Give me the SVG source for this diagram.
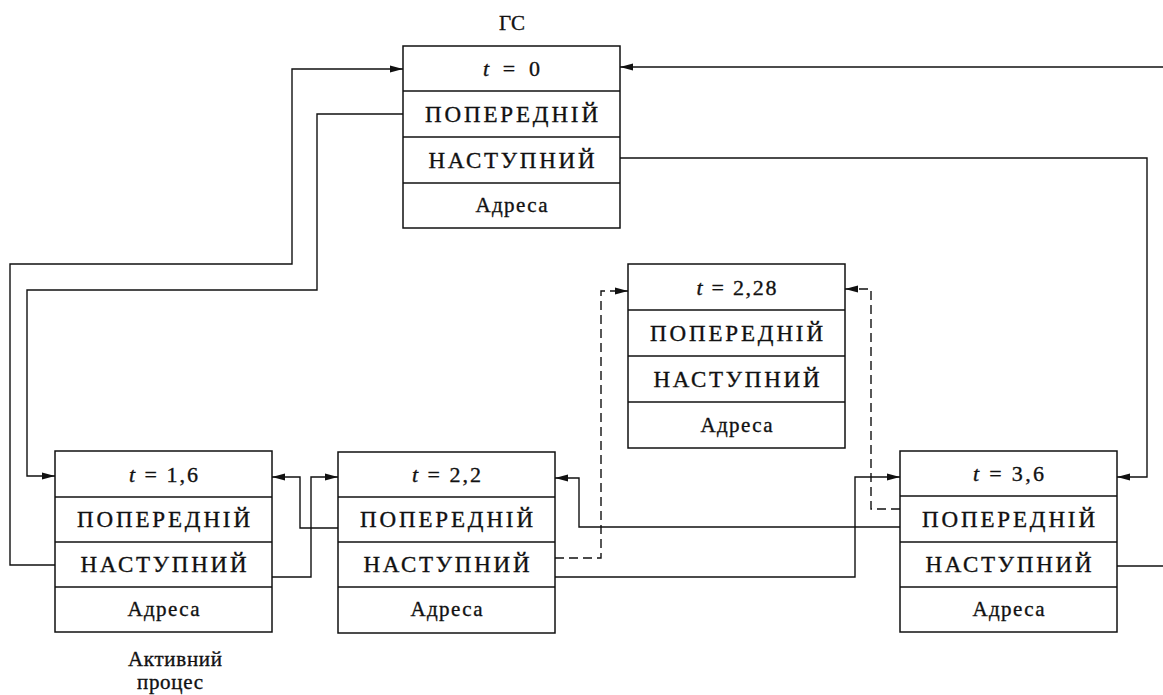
<svg xmlns="http://www.w3.org/2000/svg" width="1163" height="695" viewBox="0 0 1163 695">
<defs>
<marker id="ah" markerUnits="userSpaceOnUse" markerWidth="14" markerHeight="10" refX="13" refY="4" orient="auto">
<path d="M0,0.5 L13,4 L0,7.5 Z" fill="#111"/>
</marker>
<style>
.box{fill:#fff;stroke:#111;stroke-width:1.5}
.sep{stroke:#111;stroke-width:1.4}
.ln{fill:none;stroke:#111;stroke-width:1.4;marker-end:url(#ah)}
.pl{fill:none;stroke:#111;stroke-width:1.4}
.dl{fill:none;stroke:#111;stroke-width:1.4;stroke-dasharray:9 5;marker-end:url(#ah)}
text{font-family:"Liberation Serif","DejaVu Serif",serif;fill:#111;stroke:#111;stroke-width:0.35;text-anchor:middle}
.tt{font-size:22px}
.cap{font-size:23px}
.adr{font-size:21px}
.lbl{font-size:21px}
</style>
</defs>
<rect width="1163" height="695" fill="#fff"/>

<g id="connectors">
<path class="ln" d="M55,565 H10 V264 H292 V69 H403"/>
<path class="ln" d="M403,114 H317 V290 H27 V476 H55"/>
<path class="ln" d="M272,577 H311 V477 H338"/>
<path class="ln" d="M338,528 H300 V477 H272"/>
<path class="dl" d="M555,558 H601 V291 H628"/>
<path class="ln" d="M555,577 H855 V477 H900"/>
<path class="ln" d="M900,527 H579 V478 H555"/>
<path class="dl" d="M900,509 H871 V289 H845"/>
<path class="ln" d="M620,158 H1147 V477 H1117"/>
<path class="pl" d="M1117,566 H1163"/>
<path class="ln" d="M1163,67 H620"/>
</g>

<g id="node-gs">
<text class="lbl" x="512" y="30">ГС</text>
<rect class="box" x="403" y="46" width="217" height="182"/>
<line class="sep" x1="403" y1="91" x2="620" y2="91"/>
<line class="sep" x1="403" y1="137" x2="620" y2="137"/>
<line class="sep" x1="403" y1="183" x2="620" y2="183"/>
<text class="tt" x="511.5" y="76" textLength="57" lengthAdjust="spacing"><tspan font-style="italic">t</tspan> = 0</text>
<text class="cap" x="511.5" y="122" textLength="173" lengthAdjust="spacing">ПОПЕРЕДНІЙ</text>
<text class="cap" x="511.5" y="167.5" textLength="166" lengthAdjust="spacing">НАСТУПНИЙ</text>
<text class="adr" x="511.5" y="212" textLength="72" lengthAdjust="spacing">Адреса</text>
</g>

<g id="node-228">
<rect class="box" x="628" y="264" width="217" height="184"/>
<line class="sep" x1="628" y1="310" x2="845" y2="310"/>
<line class="sep" x1="628" y1="356" x2="845" y2="356"/>
<line class="sep" x1="628" y1="402" x2="845" y2="402"/>
<text class="tt" x="736.5" y="294.5" textLength="80" lengthAdjust="spacing"><tspan font-style="italic">t</tspan> = 2,28</text>
<text class="cap" x="736.5" y="340.5" textLength="173" lengthAdjust="spacing">ПОПЕРЕДНІЙ</text>
<text class="cap" x="736.5" y="386.5" textLength="166" lengthAdjust="spacing">НАСТУПНИЙ</text>
<text class="adr" x="736.5" y="431.5" textLength="72" lengthAdjust="spacing">Адреса</text>
</g>

<g id="node-16">
<rect class="box" x="55" y="451" width="217" height="181"/>
<line class="sep" x1="55" y1="497" x2="272" y2="497"/>
<line class="sep" x1="55" y1="542" x2="272" y2="542"/>
<line class="sep" x1="55" y1="587" x2="272" y2="587"/>
<text class="tt" x="163.5" y="481.5" textLength="69" lengthAdjust="spacing"><tspan font-style="italic">t</tspan> = 1,6</text>
<text class="cap" x="163.5" y="527" textLength="173" lengthAdjust="spacing">ПОПЕРЕДНІЙ</text>
<text class="cap" x="163.5" y="572" textLength="166" lengthAdjust="spacing">НАСТУПНИЙ</text>
<text class="adr" x="163.5" y="616" textLength="72" lengthAdjust="spacing">Адреса</text>
<text class="lbl" x="175" y="666" textLength="94" lengthAdjust="spacing">Активний</text>
<text class="lbl" x="170" y="689" textLength="66" lengthAdjust="spacing">процес</text>
</g>

<g id="node-22">
<rect class="box" x="338" y="452" width="217" height="181"/>
<line class="sep" x1="338" y1="497" x2="555" y2="497"/>
<line class="sep" x1="338" y1="542" x2="555" y2="542"/>
<line class="sep" x1="338" y1="587" x2="555" y2="587"/>
<text class="tt" x="446.5" y="481.5" textLength="69" lengthAdjust="spacing"><tspan font-style="italic">t</tspan> = 2,2</text>
<text class="cap" x="446.5" y="527" textLength="173" lengthAdjust="spacing">ПОПЕРЕДНІЙ</text>
<text class="cap" x="446.5" y="572" textLength="166" lengthAdjust="spacing">НАСТУПНИЙ</text>
<text class="adr" x="446.5" y="616" textLength="72" lengthAdjust="spacing">Адреса</text>
</g>

<g id="node-36">
<rect class="box" x="900" y="451" width="217" height="181"/>
<line class="sep" x1="900" y1="496" x2="1117" y2="496"/>
<line class="sep" x1="900" y1="542" x2="1117" y2="542"/>
<line class="sep" x1="900" y1="587" x2="1117" y2="587"/>
<text class="tt" x="1008.5" y="481" textLength="71" lengthAdjust="spacing"><tspan font-style="italic">t</tspan> = 3,6</text>
<text class="cap" x="1008.5" y="526.5" textLength="173" lengthAdjust="spacing">ПОПЕРЕДНІЙ</text>
<text class="cap" x="1008.5" y="572" textLength="166" lengthAdjust="spacing">НАСТУПНИЙ</text>
<text class="adr" x="1008.5" y="616" textLength="72" lengthAdjust="spacing">Адреса</text>
</g>
</svg>
